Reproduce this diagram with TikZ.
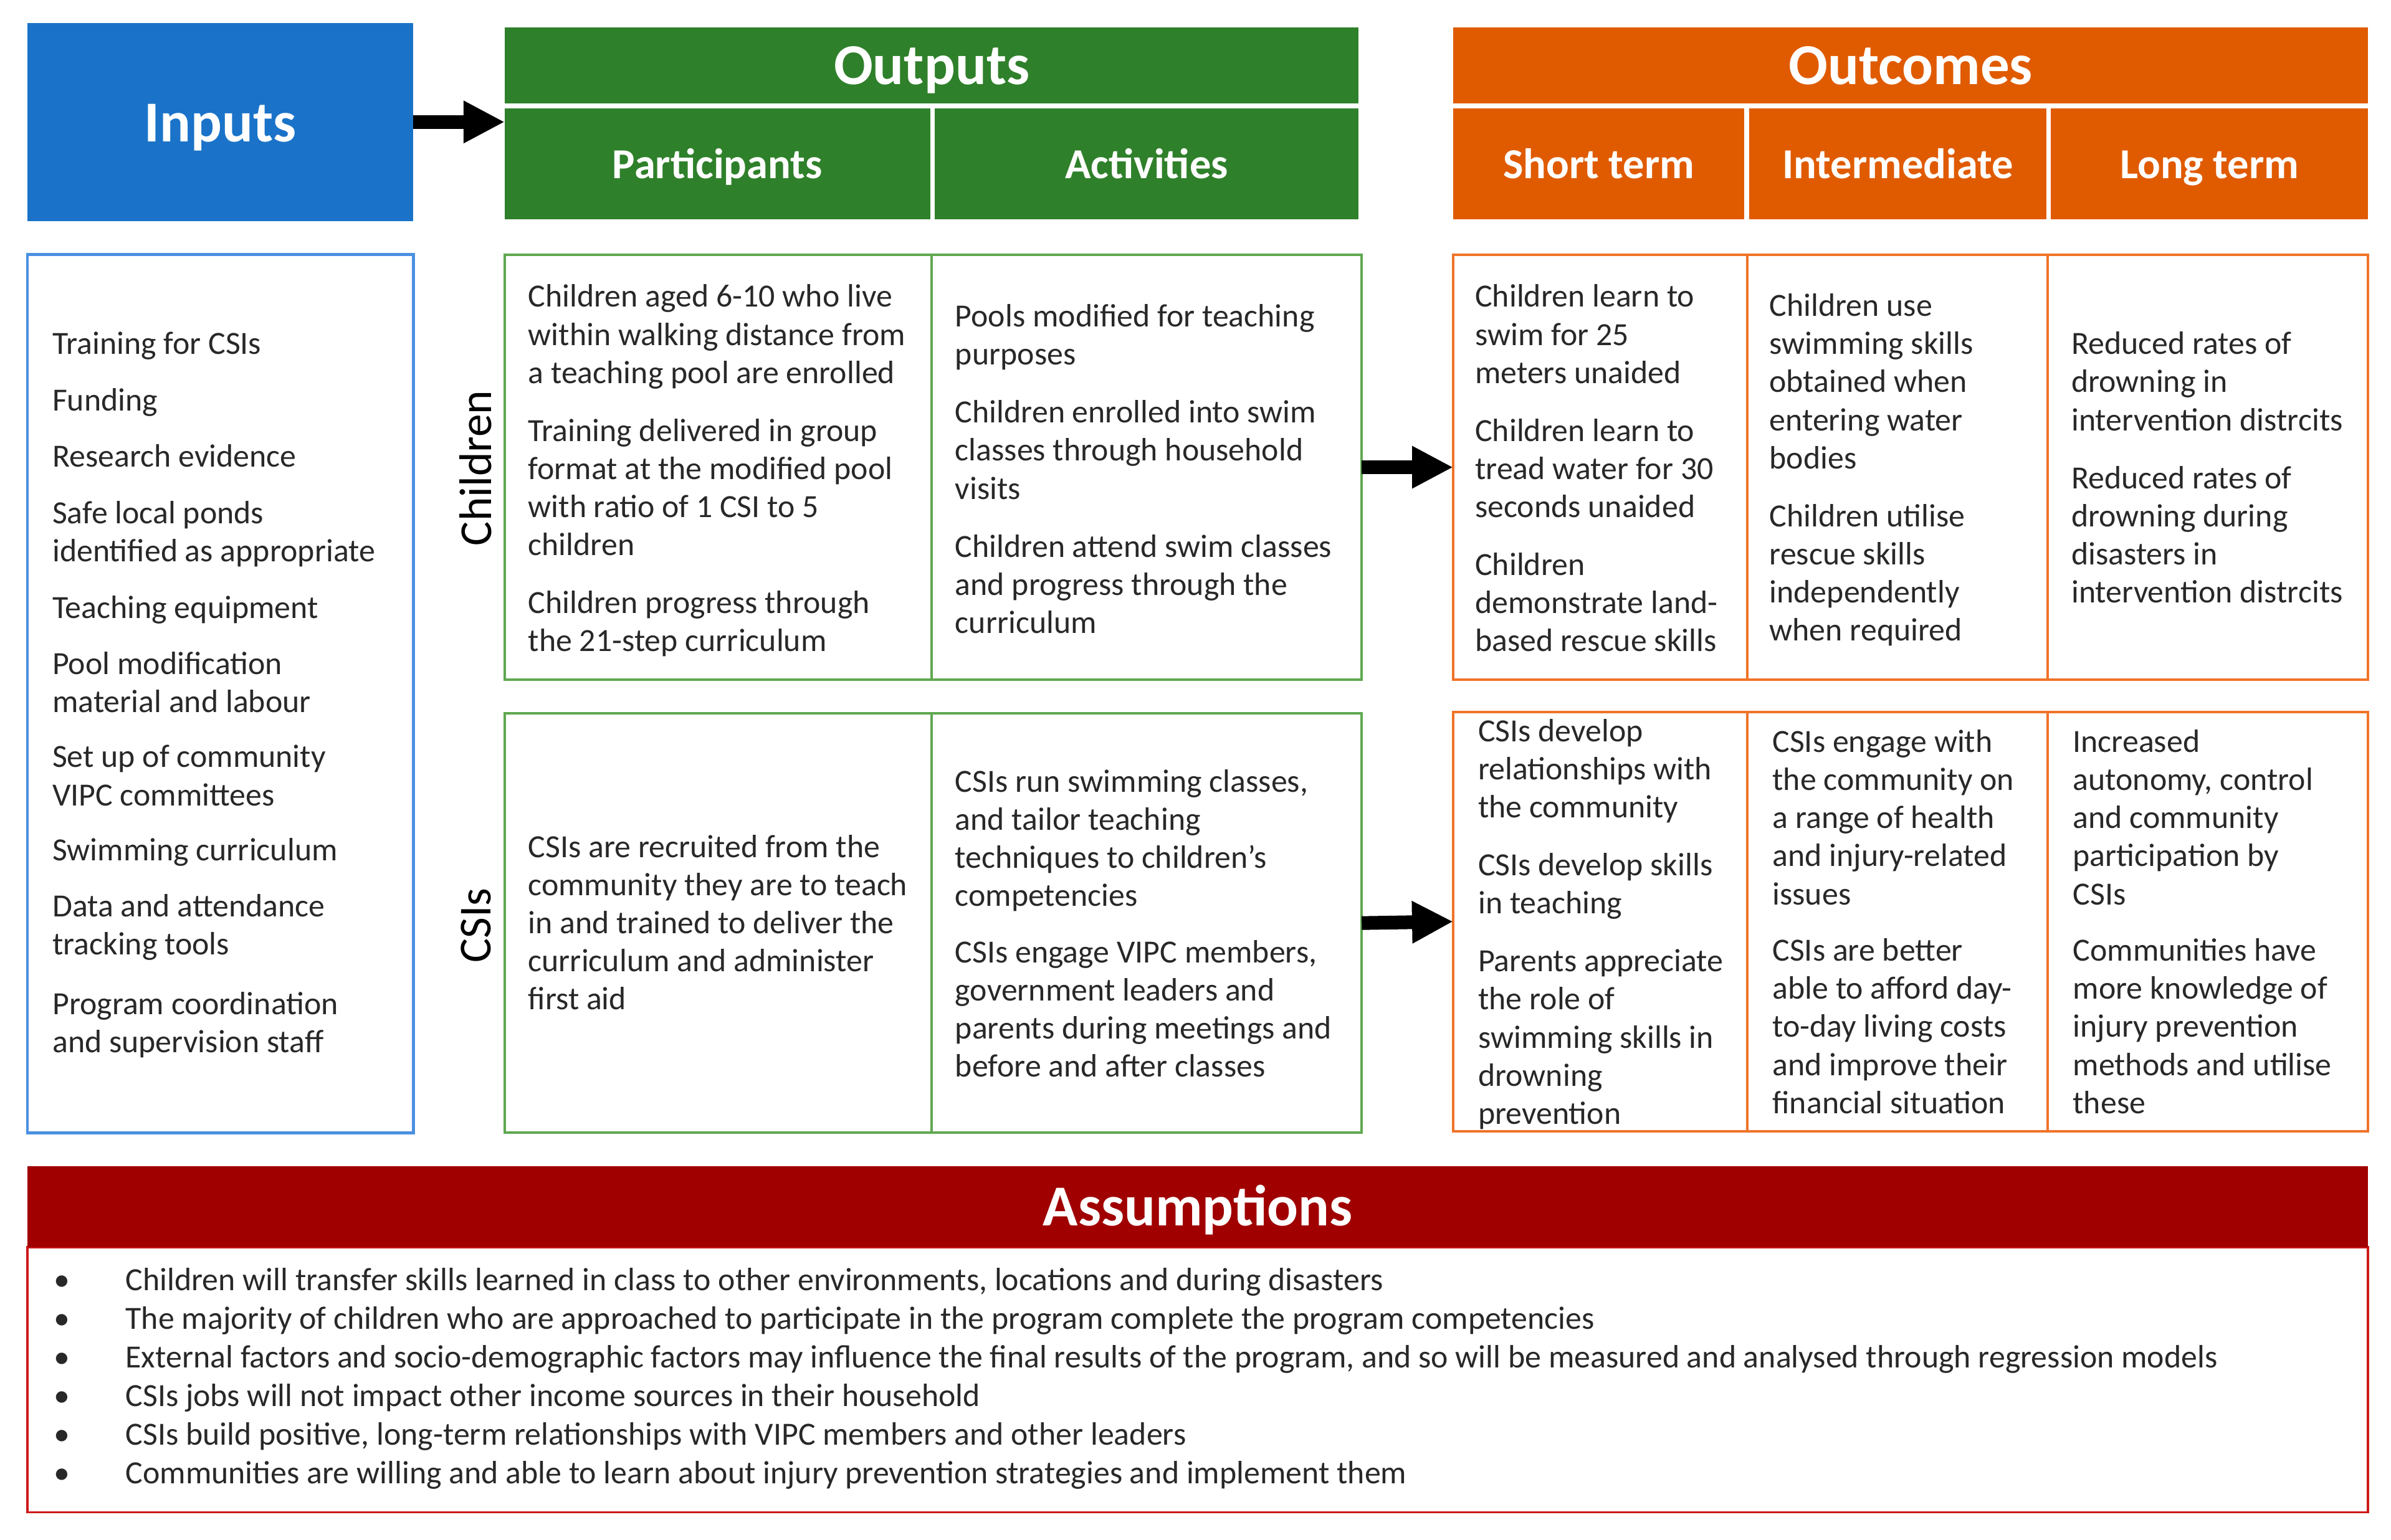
\documentclass[tikz,border=0pt]{standalone}
\usepackage{fontspec}
\setmainfont{Carlito}
\usetikzlibrary{arrows.meta,fit}
\definecolor{inblue}{RGB}{26,115,200}
\definecolor{inblueline}{RGB}{74,144,226}
\definecolor{outgreen}{RGB}{47,128,42}
\definecolor{outgreenline}{RGB}{95,168,80}
\definecolor{ocorange}{RGB}{224,91,0}
\definecolor{ocorangeline}{RGB}{240,115,40}
\definecolor{asred}{RGB}{160,0,0}
\definecolor{asredline}{RGB}{205,25,25}
\definecolor{bodytext}{RGB}{40,40,40}
\newcommand{\fl}{\rule{0pt}{9pt}}
\begin{document}
\begin{tikzpicture}[x=0.5pt,y=-0.5pt,
  fillbox/.style={inner sep=0pt, outer sep=0pt, draw=none},
  framebox/.style={inner sep=0pt, outer sep=0pt, fill=white, line width=0.8pt},
  hdr/.style={font=\fontsize{19}{22}\selectfont\bfseries, text=white, inner sep=0pt, anchor=base},
  subhdr/.style={font=\fontsize{14}{17}\selectfont\bfseries, text=white, inner sep=0pt, anchor=base},
  celltxt/.style={anchor=north west, align=left, inner sep=0pt, font=\fontsize{10.6}{12.5}\selectfont, text=bodytext},
  rowlbl/.style={rotate=90, font=\fontsize{15}{18}\selectfont, text=black, inner sep=0pt},
  bigarrow/.style={line width=4.5pt, -{Triangle[length=13.5pt,width=13pt]}},
]
\useasboundingbox (0,0) rectangle (1568,1010);
\fill[white] (0,0) rectangle (1568,1010);

% ---------- headers ----------
\node[fillbox, fill=inblue, fit={(18,15)(271,145)}] (inputs) {};
\node[hdr] (inputsT) at (144.5,93) {Inputs};

\node[fillbox, fill=outgreen, fit={(331,18)(891,68)}] (outputs) {};
\node[hdr] (outputsT) at (611,55.5) {Outputs};
\node[fillbox, fill=outgreen, fit={(331,71)(610,144)}] (part) {};
\node[subhdr] (partT) at (470.5,117) {Participants};
\node[fillbox, fill=outgreen, fit={(613,71)(891,144)}] (act) {};
\node[subhdr] (actT) at (752,117) {Activities};

\node[fillbox, fill=ocorange, fit={(953,18)(1553,68)}] (outcomes) {};
\node[hdr] (outcomesT) at (1253,55.5) {Outcomes};
\node[fillbox, fill=ocorange, fit={(953,71)(1144,144)}] (short) {};
\node[subhdr] (shortT) at (1048.5,117) {Short term};
\node[fillbox, fill=ocorange, fit={(1147,71)(1342,144)}] (inter) {};
\node[subhdr] (interT) at (1244.5,117) {Intermediate};
\node[fillbox, fill=ocorange, fit={(1345,71)(1553,144)}] (long) {};
\node[subhdr] (longT) at (1449,117) {Long term};

\draw[bigarrow] (inputs.east) -- (inputs.east -| part.west);

% ---------- inputs body ----------
\node[framebox, draw=inblueline, line width=1pt, fit={(18,167)(271,743)}] (inbody) {};
\node[celltxt] (inlist) at (34,214) {\fl Training for CSIs\\[6pt]Funding\\[6pt]Research evidence\\[6pt]Safe local ponds\\identified as appropriate\\[6pt]Teaching equipment\\[6pt]Pool modification\\material and labour\\[5.5pt]Set up of community\\VIPC committees\\[5.5pt]Swimming curriculum\\[6pt]Data and attendance\\tracking tools\\[7pt]Program coordination\\and supervision staff};

% ---------- outputs boxes ----------
\node[framebox, draw=outgreenline, fit={(331,167)(893,446)}] (outC) {};
\draw[outgreenline, line width=0.8pt] (611,167) -- (611,446);
\node[framebox, draw=outgreenline, fit={(331,468)(893,743)}] (outS) {};
\draw[outgreenline, line width=0.8pt] (611,468) -- (611,743);

% ---------- outcomes boxes ----------
\node[framebox, draw=ocorangeline, fit={(953,167)(1553,446)}] (ocC) {};
\draw[ocorangeline, line width=0.8pt] (1146,167) -- (1146,446);
\draw[ocorangeline, line width=0.8pt] (1343,167) -- (1343,446);
\node[framebox, draw=ocorangeline, fit={(953,467)(1553,742)}] (ocS) {};
\draw[ocorangeline, line width=0.8pt] (1146,467) -- (1146,742);
\draw[ocorangeline, line width=0.8pt] (1343,467) -- (1343,742);

\draw[bigarrow] (outC.east) -- (ocC.west);
\draw[bigarrow] (outS.east) -- (ocS.west);

% ---------- row labels ----------
\node[rowlbl] (lblC) at (312,307) {Children};
\node[rowlbl] (lblS) at (312,607) {CSIs};

% ---------- children row texts ----------
\node[celltxt] (pC) at (346,183) {\fl Children aged 6-10 who live\\within walking distance from\\a teaching pool are enrolled\\[6.5pt]Training delivered in group\\format at the modified pool\\with ratio of 1 CSI to 5\\children\\[6.5pt]Children progress through\\the 21-step curriculum};
\node[celltxt] (aC) at (626,196) {\fl Pools modified for teaching\\purposes\\[6.5pt]Children enrolled into swim\\classes through household\\visits\\[6.5pt]Children attend swim classes\\and progress through the\\curriculum};
\node[celltxt] (sC) at (967,183) {\fl Children learn to\\swim for 25\\meters unaided\\[6.5pt]Children learn to\\tread water for 30\\seconds unaided\\[6.5pt]Children\\demonstrate land-\\based rescue skills};
\node[celltxt] (iC) at (1160,189) {\fl Children use\\swimming skills\\obtained when\\entering water\\bodies\\[6.5pt]Children utilise\\rescue skills\\independently\\when required};
\node[celltxt] (lC) at (1358,214) {\fl Reduced rates of\\drowning in\\intervention distrcits\\[6.5pt]Reduced rates of\\drowning during\\disasters in\\intervention distrcits};

% ---------- CSIs row texts ----------
\node[celltxt] (pS) at (346,544) {\fl CSIs are recruited from the\\community they are to teach\\in and trained to deliver the\\curriculum and administer\\first aid};
\node[celltxt] (aS) at (626,501) {\fl CSIs run swimming classes,\\and tailor teaching\\techniques to children’s\\competencies\\[6pt]CSIs engage VIPC members,\\government leaders and\\parents during meetings and\\before and after classes};
\node[celltxt] (sS) at (969,468) {\fl CSIs develop\\relationships with\\the community\\[6.5pt]CSIs develop skills\\in teaching\\[6.5pt]Parents appreciate\\the role of\\swimming skills in\\drowning\\prevention};
\node[celltxt] (iS) at (1162,475) {\fl CSIs engage with\\the community on\\a range of health\\and injury-related\\issues\\[6pt]CSIs are better\\able to afford day-\\to-day living costs\\and improve their\\financial situation};
\node[celltxt] (lS) at (1359,475) {\fl Increased\\autonomy, control\\and community\\participation by\\CSIs\\[6pt]Communities have\\more knowledge of\\injury prevention\\methods and utilise\\these};

% ---------- assumptions ----------
\node[framebox, draw=asredline, fit={(18,818)(1553,992)}] (asbody) {};
\node[fillbox, fill=asred, fit={(18,765)(1553,818)}] (ashdr) {};
\node[hdr] (ashdrT) at (785.5,804) {Assumptions};
\node[celltxt, font=\fontsize{10.6}{12.7}\selectfont] (aslist) at (35,828) {%
\fl\makebox[23.5pt][l]{\textbullet}Children will transfer skills learned in class to other environments, locations and during disasters\\
\makebox[23.5pt][l]{\textbullet}The majority of children who are approached to participate in the program complete the program competencies\\
\makebox[23.5pt][l]{\textbullet}External factors and socio-demographic factors may influence the final results of the program, and so will be measured and analysed through regression models\\
\makebox[23.5pt][l]{\textbullet}CSIs jobs will not impact other income sources in their household\\
\makebox[23.5pt][l]{\textbullet}CSIs build positive, long-term relationships with VIPC members and other leaders\\
\makebox[23.5pt][l]{\textbullet}Communities are willing and able to learn about injury prevention strategies and implement them};
\end{tikzpicture}
\end{document}
